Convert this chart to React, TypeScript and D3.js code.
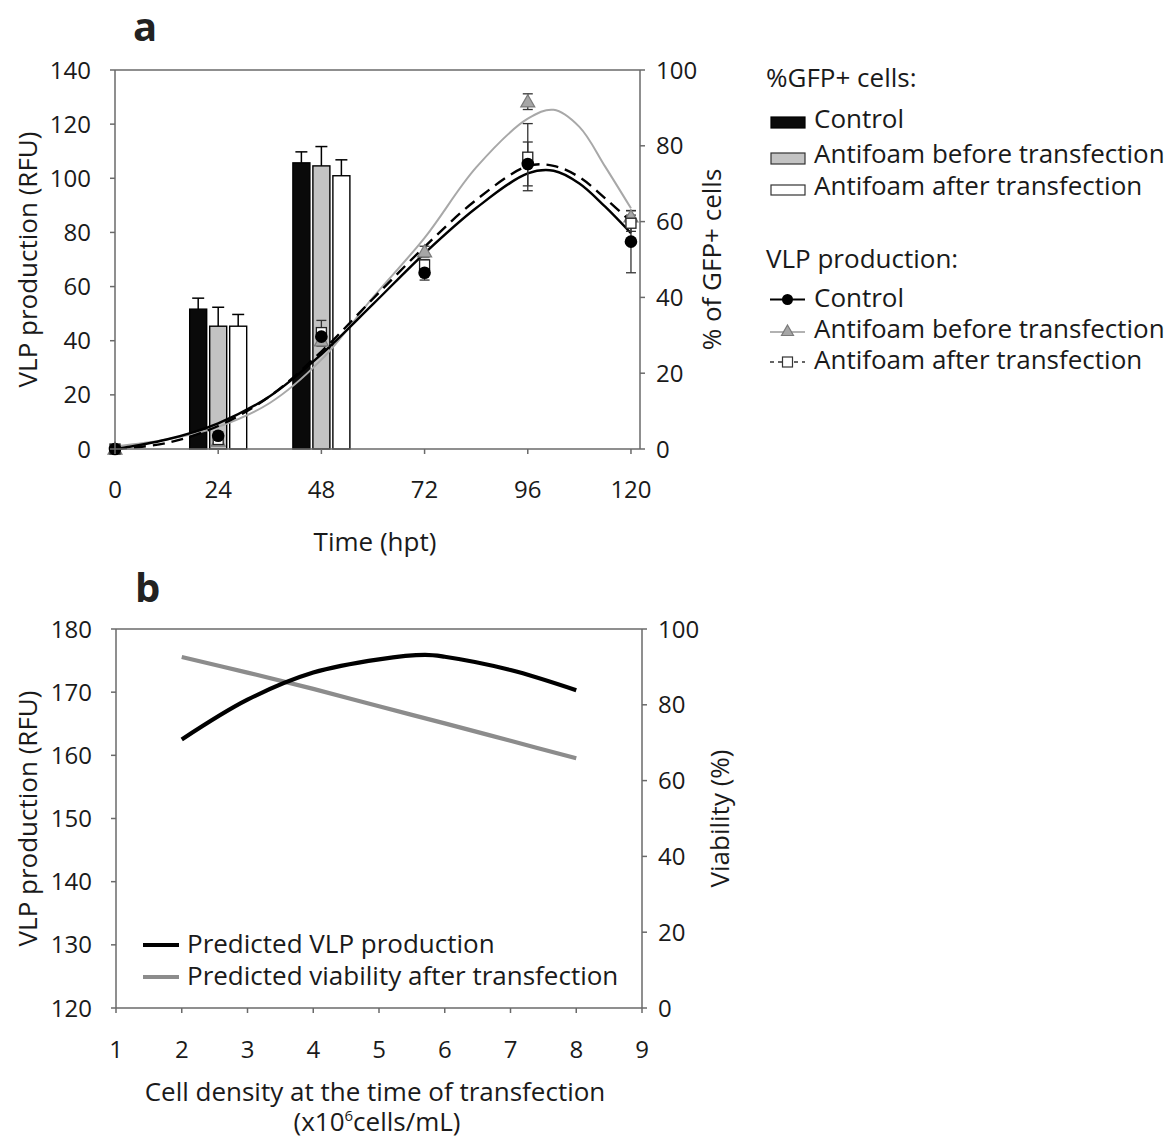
import React from "react";
import * as d3 from "d3";

// ---------- Panel a data ----------
const timeTicks = [0, 24, 48, 72, 96, 120];
const leftTicksA = [0, 20, 40, 60, 80, 100, 120, 140];
const rightTicksA = [0, 20, 40, 60, 80, 100];

const barTimes = [24, 48];
const gfpControl = [36.9, 75.5];
const gfpControlErr = [2.9, 2.9];
const gfpBefore = [32.4, 74.7];
const gfpBeforeErr = [5.0, 5.1];
const gfpAfter = [32.4, 72.1];
const gfpAfterErr = [3.1, 4.2];

const pointTimes = [0, 24, 48, 72, 96, 120];
const vlpControl = [0, 4.9, 41.5, 65.1, 105.3, 76.6];
const vlpControlErr = [0.5, 1, 2, 2.7, 8.1, 11.5];
const vlpBefore = [0, 3, 40, 72.9, 128.3, 85.8];
const vlpBeforeErr = [0.5, 1, 2, 2, 2.9, 2.2];
const vlpAfter = [0, 3.5, 43, 68, 107.8, 83.4];
const vlpAfterErr = [0.5, 1, 4.5, 2, 12.4, 3];

const fitTimes = [0, 12, 24, 36, 48, 60, 72, 84, 96, 102, 108, 114, 120];
const fitControl = [0, 3.5, 9.5, 19.5, 35, 53.5, 72.3, 89, 101.8, 102.8, 98.1, 89.5, 79.7];
const fitBefore = [1, 3.5, 8.2, 17, 33, 56, 78, 104, 122, 125.3, 119, 104.3, 88.9];
const fitAfter = [0, 2.2, 8.5, 19.5, 36, 55.5, 74.7, 92, 104.5, 104.6, 100.4, 92.6, 84];

// ---------- Panel b data ----------
const densityTicks = [1, 2, 3, 4, 5, 6, 7, 8, 9];
const leftTicksB = [120, 130, 140, 150, 160, 170, 180];
const rightTicksB = [0, 20, 40, 60, 80, 100];
const densityVLP = [2, 3, 4, 5, 5.7, 6, 7, 8];
const predVLP = [162.5, 168.8, 173.1, 175.2, 175.9, 175.6, 173.5, 170.3];
const densityViab = [2, 3, 4, 5, 6, 7, 8];
const predViab = [92.6, 88.5, 84.2, 79.6, 75.1, 70.5, 65.9];

const FONT = "'Open Sans', sans-serif";
const AX = "#6a6a6a";
const FS = 24; // tick labels
const TS = 26; // titles and legends

function Triangle({ x, y, s = 7, fill = "#a6a6a6", stroke = "#7a7a7a" }) {
  return (
    <path
      d={`M${x},${y - s} L${x + s},${y + s * 0.75} L${x - s},${y + s * 0.75} Z`}
      fill={fill}
      stroke={stroke}
      strokeWidth={1.2}
    />
  );
}

function ErrBar({ x, y1, y2, cap = 6, color = "#000", w = 1.5 }) {
  return (
    <g stroke={color} strokeWidth={w}>
      <line x1={x} x2={x} y1={y1} y2={y2} />
      <line x1={x - cap} x2={x + cap} y1={y1} y2={y1} />
      <line x1={x - cap} x2={x + cap} y1={y2} y2={y2} />
    </g>
  );
}

function PanelA() {
  const L = 115, R = 640, T = 70, B = 449;
  const x = d3.scaleLinear().domain([0, 122.1]).range([L, R]);
  const yL = d3.scaleLinear().domain([0, 140]).range([B, T]);
  const yR = d3.scaleLinear().domain([0, 100]).range([B, T]);
  const line = (vals: number[]) =>
    d3
      .line<number>()
      .x((_, i) => x(fitTimes[i]))
      .y((v) => yL(v))
      .curve(d3.curveCatmullRom.alpha(0.5))(vals) as string;

  const barW = 17;
  const barOff = 20;
  const bars = [
    { vals: gfpControl, errs: gfpControlErr, off: -barOff, fill: "#0a0a0a" },
    { vals: gfpBefore, errs: gfpBeforeErr, off: 0, fill: "#c3c3c3" },
    { vals: gfpAfter, errs: gfpAfterErr, off: barOff, fill: "#ffffff" },
  ];

  return (
    <g fontFamily={FONT}>
      <text x={133} y={41} fontSize={40} fontWeight="bold" fill="#222">a</text>
      {/* bars */}
      {bars.map((b, bi) =>
        barTimes.map((t, i) => {
          const cx = x(t) + b.off;
          const top = yR(b.vals[i]);
          const et = yR(b.vals[i] + b.errs[i]);
          return (
            <g key={`b${bi}-${i}`}>
              <line x1={cx} x2={cx} y1={top} y2={et} stroke="#000" strokeWidth={1.5} />
              <line x1={cx - 6} x2={cx + 6} y1={et} y2={et} stroke="#000" strokeWidth={1.5} />
              <rect x={cx - barW / 2} y={top} width={barW} height={B - top} fill={b.fill} stroke="#000" strokeWidth={1.4} />
            </g>
          );
        })
      )}
      {/* fitted curves */}
      <path d={line(fitBefore)} fill="none" stroke="#a8a8a8" strokeWidth={2} />
      <path d={line(fitAfter)} fill="none" stroke="#000" strokeWidth={2.4} strokeDasharray="12,7" />
      <path d={line(fitControl)} fill="none" stroke="#000" strokeWidth={2.4} />
      {/* error bars */}
      {pointTimes.map((t, i) => (
        <g key={`e${i}`}>
          <ErrBar x={x(t)} y1={yL(vlpAfter[i] + vlpAfterErr[i])} y2={yL(vlpAfter[i] - vlpAfterErr[i])} cap={5} color="#333" w={1.3} />
          <ErrBar x={x(t)} y1={yL(vlpBefore[i] + vlpBeforeErr[i])} y2={yL(vlpBefore[i] - vlpBeforeErr[i])} cap={5} color="#333" w={1.3} />
          <ErrBar x={x(t)} y1={yL(vlpControl[i] + vlpControlErr[i])} y2={yL(vlpControl[i] - vlpControlErr[i])} cap={5} color="#333" w={1.3} />
        </g>
      ))}
      {/* markers */}
      {pointTimes.map((t, i) => (
        <g key={`m${i}`}>
          <Triangle x={x(t)} y={yL(vlpBefore[i])} />
          <rect x={x(t) - 5} y={yL(vlpAfter[i]) - 5} width={10} height={10} fill="#fff" stroke="#222" strokeWidth={1.3} />
          <circle cx={x(t)} cy={yL(vlpControl[i])} r={6.3} fill="#000" />
        </g>
      ))}
      {/* axes */}
      <g stroke={AX} strokeWidth={1.5}>
        <line x1={L} x2={L} y1={T} y2={B} />
        <line x1={R} x2={R} y1={T} y2={B} />
        <line x1={L} x2={R} y1={T} y2={T} />
        <line x1={L} x2={R} y1={B} y2={B} />
        {leftTicksA.map((v) => (
          <line key={`lt${v}`} x1={L - 5} x2={L} y1={yL(v)} y2={yL(v)} />
        ))}
        {rightTicksA.map((v) => (
          <line key={`rt${v}`} x1={R} x2={R + 5} y1={yR(v)} y2={yR(v)} />
        ))}
        {timeTicks.map((v) => (
          <line key={`xt${v}`} x1={x(v)} x2={x(v)} y1={B} y2={B + 5} />
        ))}
      </g>
      <g fontSize={FS} fill="#1a1a1a">
        {leftTicksA.map((v) => (
          <text key={`ll${v}`} x={91} y={yL(v)} dy="0.36em" textAnchor="end">{v}</text>
        ))}
        {rightTicksA.map((v) => (
          <text key={`rl${v}`} x={656} y={yR(v)} dy="0.36em" textAnchor="start">{v}</text>
        ))}
        {timeTicks.map((v) => (
          <text key={`xl${v}`} x={x(v)} y={498} textAnchor="middle">{v}</text>
        ))}
      </g>
      <g fontSize={TS} fill="#1a1a1a">
        <text x={375} y={551} textAnchor="middle">Time (hpt)</text>
        <text transform={`translate(28,${(T + B) / 2}) rotate(-90)`} dy="0.36em" textAnchor="middle">VLP production (RFU)</text>
        <text transform={`translate(712,${(T + B) / 2}) rotate(-90)`} dy="0.36em" textAnchor="middle">% of GFP+ cells</text>
      </g>
      {/* legend */}
      <g fontSize={TS} fill="#1a1a1a">
        <text x={766} y={87}>%GFP+ cells:</text>
        <rect x={771} y={117} width={34} height={11} fill="#0a0a0a" stroke="#000" strokeWidth={1.2} />
        <text x={814} y={128}>Control</text>
        <rect x={771} y={153} width={34} height={11} fill="#c3c3c3" stroke="#333" strokeWidth={1.2} />
        <text x={814} y={163}>Antifoam before transfection</text>
        <rect x={771} y={185} width={34} height={10} fill="#fff" stroke="#333" strokeWidth={1.2} />
        <text x={814} y={195}>Antifoam after transfection</text>

        <text x={766} y={268}>VLP production:</text>
        <line x1={770} x2={805} y1={299.5} y2={299.5} stroke="#000" strokeWidth={1.8} />
        <circle cx={787.5} cy={299.5} r={5.5} fill="#000" />
        <text x={814} y={307}>Control</text>
        <line x1={770} x2={805} y1={332} y2={332} stroke="#999" strokeWidth={1.5} />
        <Triangle x={787.5} y={331} s={6} />
        <text x={814} y={338}>Antifoam before transfection</text>
        <line x1={770} x2={805} y1={362} y2={362} stroke="#333" strokeWidth={1.5} strokeDasharray="4,4" />
        <rect x={782.5} y={357} width={10} height={10} fill="#fff" stroke="#333" strokeWidth={1.2} />
        <text x={814} y={369}>Antifoam after transfection</text>
      </g>
    </g>
  );
}

function PanelB() {
  const L = 116, R = 642, T = 629, B = 1008;
  const x = d3.scaleLinear().domain([1, 9]).range([L, R]);
  const yL = d3.scaleLinear().domain([120, 180]).range([B, T]);
  const yR = d3.scaleLinear().domain([0, 100]).range([B, T]);
  const vlpLine = d3
    .line<number>()
    .x((_, i) => x(densityVLP[i]))
    .y((v) => yL(v))
    .curve(d3.curveCatmullRom.alpha(0.5))(predVLP) as string;
  const viabLine = d3
    .line<number>()
    .x((_, i) => x(densityViab[i]))
    .y((v) => yR(v))
    .curve(d3.curveCatmullRom.alpha(0.5))(predViab) as string;

  return (
    <g fontFamily={FONT}>
      <text x={135} y={602} fontSize={40} fontWeight="bold" fill="#222">b</text>
      <path d={viabLine} fill="none" stroke="#8c8c8c" strokeWidth={4.2} />
      <path d={vlpLine} fill="none" stroke="#000" strokeWidth={4.2} />
      <g stroke={AX} strokeWidth={1.5}>
        <line x1={L} x2={L} y1={T} y2={B} />
        <line x1={R} x2={R} y1={T} y2={B} />
        <line x1={L} x2={R} y1={T} y2={T} />
        <line x1={L} x2={R} y1={B} y2={B} />
        {leftTicksB.map((v) => (
          <line key={`lt${v}`} x1={L - 5} x2={L} y1={yL(v)} y2={yL(v)} />
        ))}
        {rightTicksB.map((v) => (
          <line key={`rt${v}`} x1={R} x2={R + 5} y1={yR(v)} y2={yR(v)} />
        ))}
        {densityTicks.map((v) => (
          <line key={`xt${v}`} x1={x(v)} x2={x(v)} y1={B} y2={B + 5} />
        ))}
      </g>
      <g fontSize={FS} fill="#1a1a1a">
        {leftTicksB.map((v) => (
          <text key={`ll${v}`} x={92} y={yL(v)} dy="0.36em" textAnchor="end">{v}</text>
        ))}
        {rightTicksB.map((v) => (
          <text key={`rl${v}`} x={658} y={yR(v)} dy="0.36em" textAnchor="start">{v}</text>
        ))}
        {densityTicks.map((v) => (
          <text key={`xl${v}`} x={x(v)} y={1058} textAnchor="middle">{v}</text>
        ))}
      </g>
      <g fontSize={TS} fill="#1a1a1a">
        <text x={375} y={1101} textAnchor="middle">Cell density at the time of transfection</text>
        <text x={377} y={1131} textAnchor="middle">
          (x10<tspan fontSize={15} baselineShift="super">6</tspan>cells/mL)
        </text>
        <text transform={`translate(28,${(T + B) / 2}) rotate(-90)`} dy="0.36em" textAnchor="middle">VLP production (RFU)</text>
        <text transform={`translate(720,${(T + B) / 2}) rotate(-90)`} dy="0.36em" textAnchor="middle">Viability (%)</text>
      </g>
      <g fontSize={TS} fill="#1a1a1a">
        <line x1={143} x2={179} y1={945} y2={945} stroke="#000" strokeWidth={4.2} />
        <text x={187} y={953}>Predicted VLP production</text>
        <line x1={143} x2={179} y1={977} y2={977} stroke="#8c8c8c" strokeWidth={4.2} />
        <text x={187} y={985}>Predicted viability after transfection</text>
      </g>
    </g>
  );
}

export default function App() {
  return (
    <svg
      width={1168}
      height={1146}
      viewBox="0 0 1168 1146"
      style={{ position: "absolute", left: 0, top: 0, background: "#fff" }}
    >
      <rect width={1168} height={1146} fill="#fff" />
      <PanelA />
      <PanelB />
    </svg>
  );
}
